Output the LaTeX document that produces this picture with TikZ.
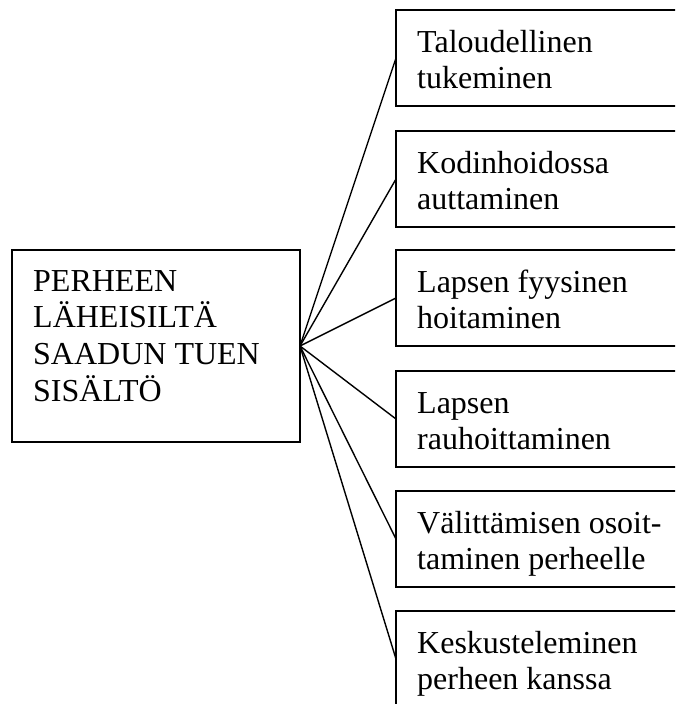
\documentclass[tikz,border=0pt]{standalone}
\usepackage{fontspec}
\setmainfont{Liberation Serif}
\begin{document}
\begin{tikzpicture}[x=1pt,y=-1pt,
  box/.style={draw, line width=1.5pt, rectangle, inner sep=0pt, outer sep=0pt, anchor=north west},
  rbox/.style={box, minimum width=310pt, minimum height=96pt},
  lbl/.style={anchor=base west, inner sep=0pt, font=\fontsize{32}{36.8}\selectfont},
  conn/.style={line width=1.4pt}]
\path[use as bounding box] (0,0) rectangle (675,704);
\clip (0,0) rectangle (675,704);
% central box
\node[box, minimum width=288pt, minimum height=192pt] (c) at (12,250) {};
\node[lbl] (ct) at (33,291) {\parbox[t]{260pt}{\raggedright PERHEEN\\ LÄHEISILTÄ\\ SAADUN TUEN\\ SISÄLTÖ}};
% right boxes
\node[rbox] (r1) at (396,10) {};
\node[rbox] (r2) at (396,131) {};
\node[rbox] (r3) at (396,250) {};
\node[rbox] (r4) at (396,371) {};
\node[rbox] (r5) at (396,491) {};
\node[rbox] (r6) at (396,611) {};
\node[lbl] (t1) at (417,52) {\parbox[t]{260pt}{\raggedright Taloudellinen\\ tukeminen}};
\node[lbl] (t2) at (417,173) {\parbox[t]{260pt}{\raggedright Kodinhoidossa\\ auttaminen}};
\node[lbl] (t3) at (417,292) {\parbox[t]{260pt}{\raggedright Lapsen fyysinen\\ hoitaminen}};
\node[lbl] (t4) at (417,413) {\parbox[t]{260pt}{\raggedright Lapsen\\ rauhoittaminen}};
\node[lbl] (t5) at (417,533) {\parbox[t]{260pt}{\raggedright Välittämisen osoit-\\ taminen perheelle}};
\node[lbl] (t6) at (417,653) {\parbox[t]{260pt}{\raggedright Keskusteleminen\\ perheen kanssa}};
% connectors
\foreach \i in {1,...,6} {\draw[conn] (c.east) -- (r\i.west);}
\end{tikzpicture}
\end{document}
